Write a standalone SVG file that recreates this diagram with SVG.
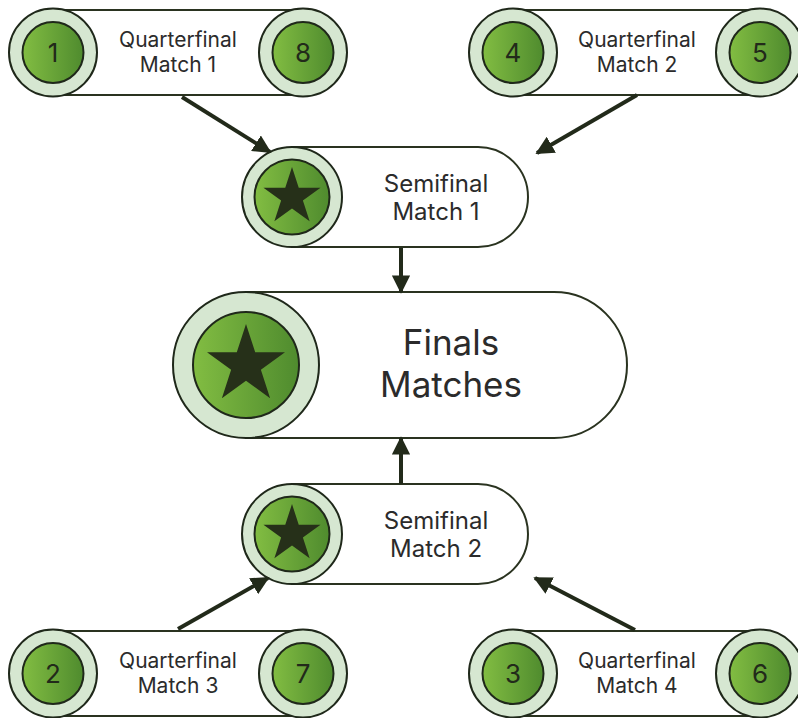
<svg xmlns="http://www.w3.org/2000/svg" width="798" height="718" viewBox="0 0 798 718">
<defs>
<linearGradient id="g" x1="0" y1="0" x2="1" y2="0">
<stop offset="0" stop-color="#82bd42"/>
<stop offset="1" stop-color="#4f8b2e"/>
</linearGradient>
<path id="star" d="M0,-1 L0.2245,-0.309 L0.951,-0.309 L0.363,0.118 L0.588,0.809 L0,0.382 L-0.588,0.809 L-0.363,0.118 L-0.951,-0.309 L-0.2245,-0.309 Z"/>
<marker id="ah" viewBox="0 0 10 10" refX="9" refY="5" markerWidth="4.6" markerHeight="4.6" markerUnits="strokeWidth" orient="auto">
<path d="M0,0 L10,5 L0,10 Z" fill="#222a1a"/>
</marker>
</defs>
<style>
.box{fill:#fff;stroke:#2a3320;stroke-width:2}
.ring{fill:#d6e7d1;stroke:#1f281a;stroke-width:2}
.core{fill:url(#g);stroke:#1f281a;stroke-width:2}
.num{font-family:Inter,"Noto Sans",sans-serif;font-size:26px;fill:#222a1a;text-anchor:middle}
.lbl{font-family:Inter,"Noto Sans",sans-serif;fill:#2b2b2b;text-anchor:middle}
.q{font-size:21px}
.s{font-size:24px}
.f{font-size:35px}
.st{fill:#263019}
.conn line{stroke:#222a1a;stroke-width:4;marker-end:url(#ah)}
</style>

<g id="qf1">
<rect class="box" x="53" y="10" width="250" height="85"/>
<circle class="ring" cx="53" cy="52.5" r="44"/><circle class="core" cx="53" cy="52.5" r="30.5"/>
<text class="num" x="53" y="62">1</text>
<circle class="ring" cx="303" cy="52.5" r="44"/><circle class="core" cx="303" cy="52.5" r="30.5"/>
<text class="num" x="303" y="62">8</text>
<text class="lbl q" x="178" y="47">Quarterfinal</text>
<text class="lbl q" x="178" y="72">Match 1</text>
</g>

<g id="qf2">
<rect class="box" x="513" y="10" width="247" height="85"/>
<circle class="ring" cx="513" cy="52.5" r="44"/><circle class="core" cx="513" cy="52.5" r="30.5"/>
<text class="num" x="513" y="62">4</text>
<circle class="ring" cx="760" cy="52.5" r="44"/><circle class="core" cx="760" cy="52.5" r="30.5"/>
<text class="num" x="760" y="62">5</text>
<text class="lbl q" x="637" y="47">Quarterfinal</text>
<text class="lbl q" x="637" y="72">Match 2</text>
</g>

<g id="qf3">
<rect class="box" x="53" y="631" width="250" height="85"/>
<circle class="ring" cx="53" cy="673.5" r="44"/><circle class="core" cx="53" cy="673.5" r="30.5"/>
<text class="num" x="53" y="683">2</text>
<circle class="ring" cx="303" cy="673.5" r="44"/><circle class="core" cx="303" cy="673.5" r="30.5"/>
<text class="num" x="303" y="683">7</text>
<text class="lbl q" x="178" y="668">Quarterfinal</text>
<text class="lbl q" x="178" y="693">Match 3</text>
</g>

<g id="qf4">
<rect class="box" x="513" y="631" width="247" height="85"/>
<circle class="ring" cx="513" cy="673.5" r="44"/><circle class="core" cx="513" cy="673.5" r="30.5"/>
<text class="num" x="513" y="683">3</text>
<circle class="ring" cx="760" cy="673.5" r="44"/><circle class="core" cx="760" cy="673.5" r="30.5"/>
<text class="num" x="760" y="683">6</text>
<text class="lbl q" x="637" y="668">Quarterfinal</text>
<text class="lbl q" x="637" y="693">Match 4</text>
</g>

<g id="sf1">
<path class="box" d="M292,147 H478 A50,50 0 0 1 478,247 H292 Z"/>
<circle class="ring" cx="292" cy="197" r="50"/><circle class="core" cx="292" cy="197" r="37.5"/>
<use href="#star" class="st" transform="translate(292,197) scale(30)"/>
<text class="lbl s" x="436" y="192">Semifinal</text>
<text class="lbl s" x="436" y="220">Match 1</text>
</g>

<g id="sf2">
<path class="box" d="M292,484 H478 A50,50 0 0 1 478,584 H292 Z"/>
<circle class="ring" cx="292" cy="534" r="50"/><circle class="core" cx="292" cy="534" r="37.5"/>
<use href="#star" class="st" transform="translate(292,534) scale(30)"/>
<text class="lbl s" x="436" y="529">Semifinal</text>
<text class="lbl s" x="436" y="557">Match 2</text>
</g>

<g id="final">
<path class="box" d="M246,292 H554 A73,73 0 0 1 554,438 H246 Z"/>
<circle class="ring" cx="246" cy="365" r="73"/><circle class="core" cx="246" cy="365" r="53"/>
<use href="#star" class="st" transform="translate(246,365) scale(41)"/>
<text class="lbl f" x="451" y="355">Finals</text>
<text class="lbl f" x="451" y="397">Matches</text>
</g>

<g id="connectors" class="conn">
<line x1="182" y1="97" x2="270" y2="152"/>
<line x1="637" y1="95" x2="537" y2="153"/>
<line x1="401" y1="248" x2="401" y2="292"/>
<line x1="401" y1="484" x2="401" y2="438"/>
<line x1="178" y1="629" x2="268" y2="578"/>
<line x1="635" y1="630" x2="535" y2="578"/>
</g>
</svg>
